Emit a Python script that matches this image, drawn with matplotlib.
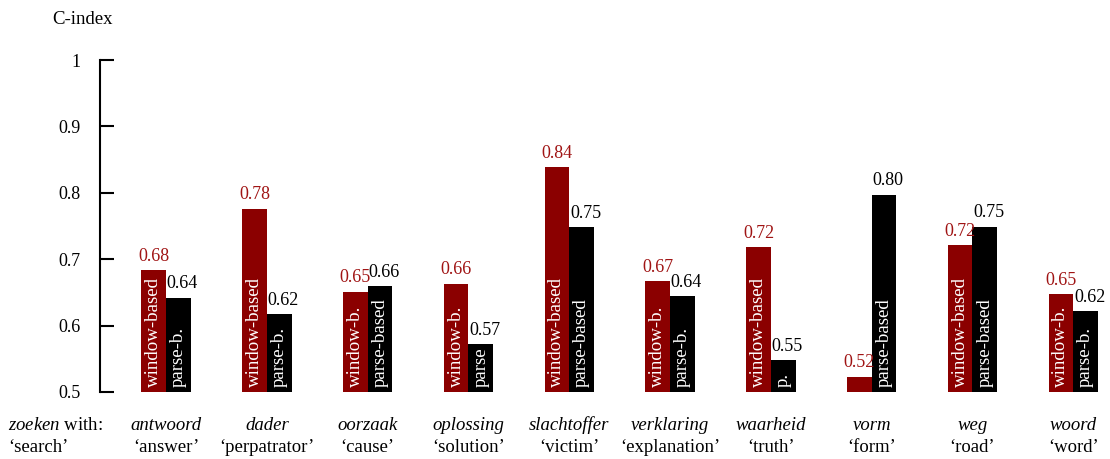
import matplotlib
matplotlib.use("Agg")
import matplotlib.pyplot as plt
import numpy as np

plt.rcParams['font.family'] = ['Liberation Serif', 'DejaVu Serif']
plt.rcParams['mathtext.fontset'] = 'custom'
plt.rcParams['mathtext.rm'] = 'Liberation Serif'
plt.rcParams['mathtext.it'] = 'Liberation Serif:italic'

# data
words = ['antwoord', 'dader', 'oorzaak', 'oplossing', 'slachtoffer',
         'verklaring', 'waarheid', 'vorm', 'weg', 'woord']
glosses = ['answer', 'perpatrator', 'cause', 'solution', 'victim',
           'explanation', 'truth', 'form', 'road', 'word']
window = [0.684, 0.776, 0.651, 0.663, 0.839, 0.667, 0.718, 0.523, 0.721, 0.647]
parse = [0.642, 0.617, 0.659, 0.572, 0.748, 0.644, 0.548, 0.797, 0.749, 0.622]
window_txt = ['window-based', 'window-based', 'window-b.', 'window-b.', 'window-based',
              'window-b.', 'window-based', '', 'window-based', 'window-b.']
parse_txt = ['parse-b.', 'parse-b.', 'parse-based', 'parse', 'parse-based',
             'parse-b.', 'p.', 'parse-based', 'parse-based', 'parse-b.']

red = '#8b0000'
red_txt = '#a01414'
fs = 13.5      # axis / category labels
fs_val = 13    # value labels
fs_bar = 13.6  # labels inside bars

fig = plt.figure(figsize=(11.1, 4.59), dpi=100)
ax = fig.add_axes([100/1110, 67/459, 1010/1110, 332/459])

x = np.arange(len(words))
w = 0.245
ax.bar(x - w/2, np.array(window) - 0.5, w, bottom=0.5, color=red)
ax.bar(x + w/2, np.array(parse) - 0.5, w, bottom=0.5, color='black')

for i in range(len(words)):
    ax.text(x[i] - w/2, window[i] + 0.008, f'{window[i]:.2f}', ha='center', va='bottom',
            color=red_txt, fontsize=fs_val)
    ax.text(x[i] + w/2 + 0.04, parse[i] + 0.008, f'{parse[i]:.2f}', ha='center', va='bottom',
            color='black', fontsize=fs_val)
    ax.text(x[i] - w/2, 0.507, window_txt[i], rotation=90, ha='center', va='bottom',
            color='white', fontsize=fs_bar)
    ax.text(x[i] + w/2, 0.507, parse_txt[i], rotation=90, ha='center', va='bottom',
            color='white', fontsize=fs_bar)
    ax.text(x[i], -0.1, words[i], transform=ax.get_xaxis_transform(), ha='center',
            va='center', style='italic', fontsize=fs)
    ax.text(x[i], -0.168, '\u2018' + glosses[i] + '\u2019', transform=ax.get_xaxis_transform(),
            ha='center', va='center', fontsize=fs)

fig.text(8/1110, 1 - 425/459, r'$\mathit{zoeken}$ with:', ha='left', va='center', fontsize=fs)
fig.text(8/1110, 1 - 448/459, '\u2018search\u2019', ha='left', va='center', fontsize=fs)
fig.text(52/1110, 1 - 20/459, 'C-index', ha='left', va='center', fontsize=fs)

ax.set_ylim(0.5, 1)
ax.set_xlim(-0.655, 9.365)
ax.set_yticks([0.5, 0.6, 0.7, 0.8, 0.9, 1.0])
ax.set_yticklabels(['0.5', '0.6', '0.7', '0.8', '0.9', '1'])
ax.set_xticks([])
for s in ['top', 'right', 'bottom']:
    ax.spines[s].set_visible(False)
ax.spines['left'].set_linewidth(1.5)
ax.tick_params(axis='y', direction='in', length=10, width=1.5, labelsize=fs_val, pad=14)

fig.savefig('out.png', dpi=100)
